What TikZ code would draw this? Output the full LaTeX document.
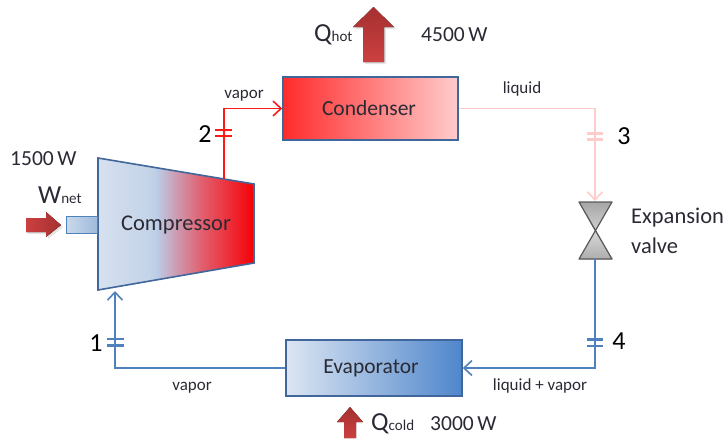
\documentclass[tikz,border=0pt]{standalone}
\usepackage{fontspec}
\setmainfont{Carlito}
\usetikzlibrary{arrows.meta,calc}
\definecolor{edgeblue}{HTML}{41679A}
\definecolor{pipeblue}{HTML}{4F81BD}
\definecolor{evapblue}{HTML}{4F86CC}
\definecolor{pipered}{HTML}{FF1A1A}
\definecolor{pipepink}{HTML}{FFCCCC}
\definecolor{txt}{HTML}{2A2A35}
\definecolor{heatdark}{HTML}{A53030}
\definecolor{heatlight}{HTML}{CC4040}
\definecolor{shadowgray}{HTML}{E4E4E4}
\pgfdeclarehorizontalshading{compressorshade}{100bp}{
  rgb(0bp)=(0.84,0.88,0.94);
  rgb(25bp)=(0.84,0.88,0.94);
  rgb(41bp)=(0.77,0.83,0.91);
  rgb(44bp)=(0.73,0.80,0.90);
  rgb(49bp)=(0.79,0.64,0.73);
  rgb(58bp)=(0.88,0.38,0.44);
  rgb(67bp)=(0.93,0.18,0.22);
  rgb(75bp)=(0.96,0.00,0.02);
  rgb(100bp)=(0.96,0.00,0.02)}
\tikzset{
  x=1pt,y=-1pt,
  small text/.style={text=txt,inner sep=0pt,font=\fontsize{17}{17}\selectfont},
  num text/.style={text=black,inner sep=0pt,font=\fontsize{26}{26}\selectfont},
  name text/.style={text=txt,inner sep=0pt,font=\fontsize{22.5}{22.5}\selectfont},
  power text/.style={text=txt,inner sep=0pt,font=\fontsize{21.5}{21.5}\selectfont},
  hx/.style={draw=edgeblue,line width=1.6pt,rectangle,inner sep=0pt,text=txt,font=\fontsize{21.5}{21.5}\selectfont},
  pipe/.style={line width=1.7pt},
  tick mark/.style={line width=2.5pt},
  barb/.style={-{Straight Barb[length=8pt,width=15pt,line width=1.6pt]}},
}
\newcommand{\Qsym}[2]{{\fontsize{26}{26}\selectfont #1}{\fontsize{15}{15}\selectfont #2}}
\begin{document}
\begin{tikzpicture}
\useasboundingbox (0,0) rectangle (727,442);
% ---- compressor
\coordinate (c1) at (98,158);
\coordinate (c2) at (254,184);
\coordinate (c3) at (254,263);
\coordinate (c4) at (98,290);
\coordinate (cout) at (224,179);
\coordinate (cin) at (115,291);
\begin{scope}
  \clip (c1) -- (c2) -- (c3) -- (c4) -- cycle;
  \shade[shading=compressorshade] (98,150) rectangle (254,300);
\end{scope}
\draw[edgeblue,line width=1.6pt,line join=miter] (c1) -- (c2) -- (c3) -- (c4) -- cycle;
\node[name text] (comp) at (176,225) {Compressor};
% ---- stub shaft
\node[draw=pipeblue,line width=1pt,left color=pipeblue!30!white,right color=pipeblue!55!white,
  minimum width=31pt,minimum height=17pt,inner sep=0pt] (stub) at (82,225) {};
% ---- heat exchangers
\node[hx,left color=red!83!white,right color=red!20!white,minimum width=175pt,minimum height=63pt] (cond) at (370.5,108.5) {\hspace*{-3pt}Condenser};
\node[hx,left color=pipeblue!20!white,right color=evapblue,minimum width=176pt,minimum height=56pt] (evap) at (374,368) {\hspace*{-6pt}Evaporator};
% ---- valve
\coordinate (vc) at (595,231);
\coordinate (vtl) at (579,202);
\coordinate (vtr) at (612,202);
\coordinate (vbl) at (579,259);
\coordinate (vbr) at (612,259);
\coordinate (vtop) at (595,201);
\coordinate (vbot) at (595,259);
\fill[top color=black!35,bottom color=black!18] (vtl) -- (vtr) -- (vc) -- cycle;
\fill[top color=black!15,bottom color=black!32] (vc) -- (vbr) -- (vbl) -- cycle;
\draw[black!65,line width=1.2pt,line join=round] (vtl) -- (vbr) -- (vbl) -- (vtr) -- cycle;
% ---- pipes
\coordinate (j2) at (224,108.5);
\coordinate (j3) at (595,108.5);
\coordinate (j4) at (595,368);
\coordinate (j1) at (115,368);
\draw[pipe,pipered,barb] (cout) -- (j2) -- (cond.west);
\draw[pipe,pipepink,barb] (cond.east) -- (j3) -- (vtop);
\draw[pipe,pipeblue,barb] (vbot) -- (j4) -- (evap.east);
\draw[pipe,pipeblue,barb] (evap.west) -- (j1) -- (cin);
% ---- state ticks
\coordinate (t2a) at (215,130); \coordinate (t2b) at (232,130);
\coordinate (t2c) at (215,136); \coordinate (t2d) at (232,136);
\draw[tick mark,pipered] (t2a) -- (t2b) (t2c) -- (t2d);
\coordinate (t3a) at (587,133.5); \coordinate (t3b) at (603,133.5);
\coordinate (t3c) at (587,139.5); \coordinate (t3d) at (603,139.5);
\draw[tick mark,pipepink] (t3a) -- (t3b) (t3c) -- (t3d);
\coordinate (t4a) at (587,339.5); \coordinate (t4b) at (603,339.5);
\coordinate (t4c) at (587,346); \coordinate (t4d) at (603,346);
\draw[tick mark,pipeblue] (t4a) -- (t4b) (t4c) -- (t4d);
\coordinate (t1a) at (107,339); \coordinate (t1b) at (124,339);
\coordinate (t1c) at (107,345.5); \coordinate (t1d) at (124,345.5);
\draw[tick mark,pipeblue] (t1a) -- (t1b) (t1c) -- (t1d);
\node[num text] (n1) at (96,343) {1};
\node[num text] (n2) at (205,134) {2};
\node[num text] (n3) at (624,136) {3};
\node[num text] (n4) at (619,341) {4};
% ---- heat/work arrows
\fill[shadowgray] (28,220) -- (48,220) -- (48,214) -- (63,227) -- (48,239) -- (48,234) -- (28,234) -- cycle;
\fill[left color=heatlight,right color=heatdark]
  (26,218) -- (46,218) -- (46,212) -- (61,225) -- (46,237) -- (46,232) -- (26,232) -- cycle;
\fill[shadowgray] (365,64) -- (365,29) -- (355,29) -- (375.5,9) -- (396,29) -- (386,29) -- (386,64) -- cycle;
\fill[top color=heatdark,bottom color=heatlight]
  (363,62) -- (363,27) -- (353,27) -- (373.5,7) -- (394,27) -- (384,27) -- (384,62) -- cycle;
\fill[top color=heatdark,bottom color=heatlight]
  (344,438) -- (344,422) -- (337,422) -- (350,407) -- (363,422) -- (356,422) -- (356,438) -- cycle;
% ---- text
\node[power text,anchor=west] (p1500) at (10,159) {1500\,W};
\node[power text,anchor=west] (p4500) at (421,35) {4500\,W};
\node[power text,anchor=west] (p3000) at (430,424) {3000\,W};
\node[text=txt,inner sep=0pt,anchor=west] (wnet) at (38,195) {\Qsym{W}{net}};
\node[text=txt,inner sep=0pt,anchor=west] (qhot) at (314,35) {\Qsym{Q}{hot}};
\node[text=txt,inner sep=0pt,anchor=west] (qcold) at (371,424) {\Qsym{Q}{cold}};
\node[small text] (l1) at (244,96) {vapor};
\node[small text] (l2) at (522,89) {liquid};
\node[small text] (l3) at (192,388) {vapor};
\node[small text] (l4) at (540,386) {liquid + vapor};
\node[name text,anchor=west] (ev1) at (631,218) {Expansion};
\node[name text,anchor=west] (ev2) at (631,246) {valve};
\end{tikzpicture}
\end{document}
